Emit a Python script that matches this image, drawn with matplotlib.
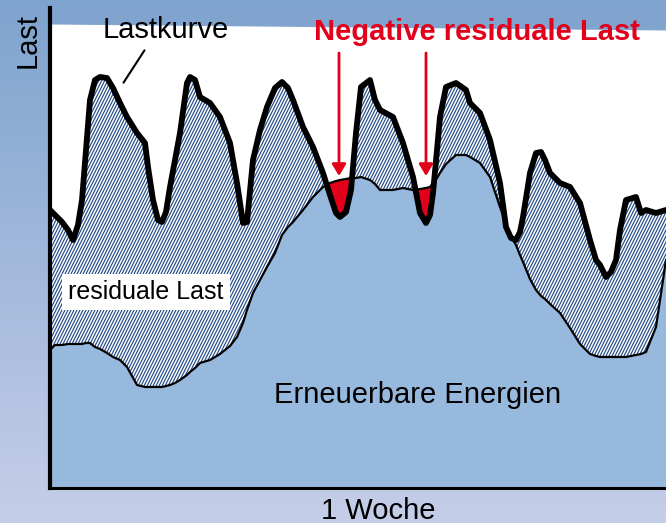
import matplotlib
matplotlib.use("Agg")
import matplotlib.pyplot as plt
from matplotlib.collections import LineCollection
from matplotlib.path import Path
import numpy as np

# time axis (arbitrary units across one week) and load / renewable levels
t = np.array([0, 5, 12, 18, 23, 28, 32, 36, 40, 45, 50, 57, 63, 70, 77, 87, 95, 98, 103, 108,
              112, 116, 120, 125, 130, 137, 140, 145, 150, 160, 170, 180, 187, 193, 197, 203,
              210, 217, 225, 232, 238, 243, 253, 263, 273, 280, 286, 290, 296, 301, 306, 311,
              320, 325, 330, 343, 353, 363, 370, 376, 380, 383, 387, 390, 396, 406, 416, 420,
              430, 440, 450, 456, 461, 466, 470, 473, 480, 486, 491, 495, 500, 510, 520, 530,
              540, 546, 550, 556, 561, 566, 570, 576, 586, 591, 596, 606, 616])
last = np.array([278, 273, 266, 258, 248, 263, 288, 338, 388, 408, 411, 410, 400, 385, 371, 355,
                 345, 321, 288, 268, 266, 276, 301, 328, 355, 405, 411, 408, 391, 385, 371, 345,
                 305, 265, 266, 328, 358, 381, 400, 406, 400, 388, 361, 341, 315, 293, 275, 271,
                 276, 298, 355, 401, 408, 388, 378, 371, 345, 311, 275, 265, 273, 295, 338, 371,
                 401, 405, 398, 385, 375, 348, 305, 261, 250, 248, 256, 271, 315, 335, 336, 328,
                 315, 305, 301, 285, 248, 228, 223, 211, 216, 228, 258, 288, 291, 275, 278, 275,
                 278])
erneuerbar = np.array([138, 143, 143, 144, 144, 144, 144, 145, 145, 141, 139, 135, 131, 128, 121,
                       103, 101, 101, 101, 101, 101, 102, 103, 105, 108, 113, 116, 120, 125, 128,
                       134, 142, 151, 165, 178, 195, 208, 221, 235, 253, 261, 266, 278, 291, 301,
                       305, 307, 308, 309, 310, 310, 311, 308, 304, 298, 298, 300, 298, 299, 300,
                       301, 305, 310, 315, 324, 333, 333, 331, 325, 311, 281, 265, 252, 243, 233,
                       226, 209, 198, 192, 189, 184, 175, 160, 144, 134, 132, 131, 131, 131, 131,
                       131, 131, 133, 134, 136, 161, 228])
oben = [464, 458]  # upper edge of the white drawing area

plt.rcParams['font.family'] = ['Liberation Sans', 'DejaVu Sans']
ROT = "#e2001a"
BLAU = "#98b9de"
SCHRAFF = "#234a88"

fig = plt.figure(figsize=(6.66, 5.23), dpi=100)

# gradient background
bg = fig.add_axes([0, 0, 1, 1], zorder=0)
top_c = np.array([126, 163, 206]) / 255
bot_c = np.array([197, 206, 232]) / 255
g = np.linspace(0, 1, 256)[:, None]
grad = top_c[None, :] * (1 - g) + bot_c[None, :] * g
bg.imshow(grad[:, None, :].repeat(2, axis=1), aspect="auto", extent=[0, 1, 0, 1])
bg.axis("off")

ax = fig.add_axes([50 / 666, 35 / 523, 616 / 666, 480 / 523], zorder=1)
ax.patch.set_alpha(0)
ax.set_xlim(0, 616)
ax.set_ylim(0, 480)

ax.fill_between([0, 616], 0, oben, color="white", lw=0, zorder=0)
ax.fill_between(t, 0, erneuerbar, color=BLAU, lw=0, zorder=1)
resid = ax.fill_between(t, erneuerbar, last, where=last >= erneuerbar, interpolate=True,
                        facecolor="white", lw=0, zorder=2)

# steep diagonal hatching clipped to the residual-load area
x0 = np.arange(-260, 620, 3.0)
segs = [[(a, 0), (a + 240, 480)] for a in x0]
lc = LineCollection(segs, colors=SCHRAFF, linewidths=0.85, zorder=2.5)
ax.add_collection(lc)
lc.set_clip_path(Path.make_compound_path(*resid.get_paths()), ax.transData)

ax.fill_between(t, last, erneuerbar, where=last < erneuerbar, interpolate=True,
                color=ROT, lw=0, zorder=3)
ax.plot(t, erneuerbar, color="black", lw=1.6, zorder=4)
ax.plot(t, last, color="black", lw=4.2, solid_joinstyle="round", solid_capstyle="round", zorder=5)

for s in ["top", "right"]:
    ax.spines[s].set_visible(False)
ax.spines["left"].set_linewidth(3.0)
ax.spines["bottom"].set_linewidth(2.2)
ax.spines["left"].set_zorder(6)
ax.spines["bottom"].set_zorder(6)
ax.set_xticks([])
ax.set_yticks([])

# labels
ax.text(116, 458, "Lastkurve", ha="center", va="center", fontsize=21, zorder=7)
ax.annotate("", xy=(72, 403), xytext=(96, 440),
            arrowprops=dict(arrowstyle="-", color="black", lw=1.5), zorder=7)
ax.text(427, 456, "Negative residuale Last", ha="center", va="center",
        fontsize=21, fontweight="bold", color=ROT, zorder=7)
for xa in [289, 376]:
    ax.annotate("", xy=(xa, 312), xytext=(xa, 435),
                arrowprops=dict(arrowstyle="-|>,head_length=0.5,head_width=0.3",
                                color=ROT, lw=2, mutation_scale=14, shrinkA=0, shrinkB=0),
                zorder=7)
ax.text(96, 196, "residuale Last", ha="center", va="center", fontsize=18, zorder=7,
        bbox=dict(boxstyle="square,pad=0.25", fc="white", ec="none"))
ax.text(368, 93, "Erneuerbare Energien", ha="center", va="center", fontsize=21, zorder=7)

fig.text(28 / 666, 1 - 40 / 523, "Last", rotation=90, ha="center", va="center", fontsize=21)
fig.text(378 / 666, 1 - 511 / 523, "1 Woche", ha="center", va="center", fontsize=21)

fig.savefig("out.png", dpi=100)
